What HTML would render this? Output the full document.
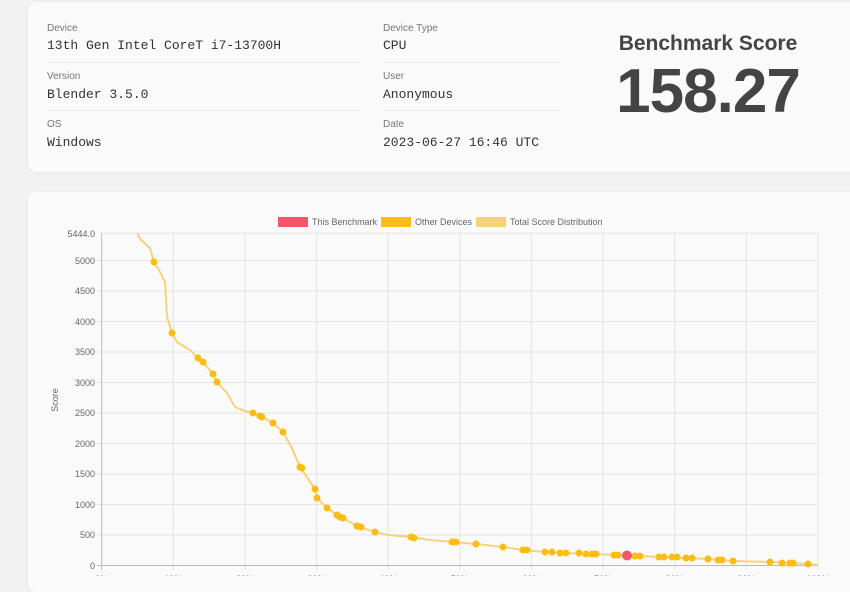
<!DOCTYPE html>
<html><head><meta charset="utf-8"><style>
body{margin:0;width:850px;height:576px;overflow:hidden;background:#f2f2f3;font-family:"Liberation Sans",sans-serif;position:relative}
.card{position:absolute;background:#fafafb;border-radius:8px;box-shadow:0 1px 4px rgba(0,0,0,.06)}
.lab{position:absolute;font-size:10px;color:#777}
.val{position:absolute;font-family:"Liberation Mono",monospace;font-size:13px;color:#333}
.hr{position:absolute;height:1px;background:#eaeaea}
</style></head><body>
<div class="card" style="left:28px;top:2px;width:840px;height:170px"></div>
<div class="lab" style="left:47px;top:23px">Device</div>
<div class="val" style="left:47px;top:38px">13th Gen Intel CoreT i7-13700H</div>
<div class="hr" style="left:47px;top:62px;width:314px"></div>
<div class="lab" style="left:47px;top:71px">Version</div>
<div class="val" style="left:47px;top:87px">Blender 3.5.0</div>
<div class="hr" style="left:47px;top:110px;width:314px"></div>
<div class="lab" style="left:47px;top:119px">OS</div>
<div class="val" style="left:47px;top:135px">Windows</div>
<div class="lab" style="left:383px;top:23px">Device Type</div>
<div class="val" style="left:383px;top:38px">CPU</div>
<div class="hr" style="left:383px;top:62px;width:178px"></div>
<div class="lab" style="left:383px;top:71px">User</div>
<div class="val" style="left:383px;top:87px">Anonymous</div>
<div class="hr" style="left:383px;top:110px;width:178px"></div>
<div class="lab" style="left:383px;top:119px">Date</div>
<div class="val" style="left:383px;top:135px">2023-06-27 16:46 UTC</div>
<div style="position:absolute;left:600px;width:216px;top:32px;text-align:center;font-size:21px;font-weight:bold;color:#444">Benchmark Score</div>
<div style="position:absolute;left:600px;width:216px;top:56px;text-align:center;font-size:62px;font-weight:bold;color:#444;letter-spacing:-1px">158.27</div>
<div class="card" style="left:28px;top:192px;width:840px;height:400px"></div>
<svg style="position:absolute;left:0;top:0" width="850" height="576" font-family="Liberation Sans, sans-serif">
<rect x="278" y="217" width="30" height="10" fill="#f4566a"/><text x="312" y="225" font-size="9" fill="#666">This Benchmark</text>
<rect x="381" y="217" width="30" height="10" fill="#fbbc14"/><text x="415" y="225" font-size="9" fill="#666">Other Devices</text>
<rect x="476" y="217" width="30" height="10" fill="#f5d27e"/><text x="510" y="225" font-size="9" fill="#666">Total Score Distribution</text>
<g stroke="#e4e4e6" stroke-width="1">
<line x1="101.7" y1="233.3" x2="818" y2="233.3"/>
<line x1="97" y1="260.5" x2="818" y2="260.5"/><line x1="97" y1="291" x2="818" y2="291"/><line x1="97" y1="321.5" x2="818" y2="321.5"/><line x1="97" y1="352" x2="818" y2="352"/><line x1="97" y1="382.5" x2="818" y2="382.5"/><line x1="97" y1="413" x2="818" y2="413"/><line x1="97" y1="443.5" x2="818" y2="443.5"/><line x1="97" y1="474" x2="818" y2="474"/><line x1="97" y1="504.5" x2="818" y2="504.5"/><line x1="97" y1="535" x2="818" y2="535"/>
<line x1="173.3" y1="233" x2="173.3" y2="570"/><line x1="245" y1="233" x2="245" y2="570"/><line x1="316.6" y1="233" x2="316.6" y2="570"/><line x1="388.2" y1="233" x2="388.2" y2="570"/><line x1="459.8" y1="233" x2="459.8" y2="570"/><line x1="531.4" y1="233" x2="531.4" y2="570"/><line x1="603" y1="233" x2="603" y2="570"/><line x1="674.7" y1="233" x2="674.7" y2="570"/><line x1="746.3" y1="233" x2="746.3" y2="570"/><line x1="818" y1="233" x2="818" y2="570"/>
</g>
<line x1="101.7" y1="233" x2="101.7" y2="570" stroke="#bbb"/>
<line x1="97" y1="565.5" x2="818" y2="565.5" stroke="#bbb"/>
<g font-size="9" fill="#666" text-anchor="end">
<text x="95" y="237">5444.0</text><text x="95" y="264">5000</text><text x="95" y="294">4500</text><text x="95" y="325">4000</text><text x="95" y="355">3500</text><text x="95" y="386">3000</text><text x="95" y="416">2500</text><text x="95" y="447">2000</text><text x="95" y="477">1500</text><text x="95" y="508">1000</text><text x="95" y="538">500</text><text x="95" y="569">0</text>
</g>
<g font-size="9" fill="#666" text-anchor="middle">
<text x="101.7" y="582">0%</text><text x="173.3" y="582">10%</text><text x="245" y="582">20%</text><text x="316.6" y="582">30%</text><text x="388.2" y="582">40%</text><text x="459.8" y="582">50%</text><text x="531.4" y="582">60%</text><text x="603" y="582">70%</text><text x="674.7" y="582">80%</text><text x="746.3" y="582">90%</text><text x="818" y="582">100%</text>
</g>
<text x="58" y="400" font-size="9" fill="#666" text-anchor="middle" transform="rotate(-90 58 400)">Score</text>
<polyline fill="none" stroke="#f5d27e" stroke-width="2" points="137.3,233.3 141,240 150,248 154,262 159,270 165,282 167,317 172,333 177,342 190,350 198,358 203,362 213,374 217,382 227,393 235,407 245,411 253,413 260,416 273,423 283,432 292,448 300,467 315,489 317,498 327,508 337,515 343,518 357,526 375,532 388,535 412,537 430,540 453,542 476,544 503,547 523,550 545,552 563,553 593,554 617,555 627,556 637,556 660,557 677,558 690,558 708,559 733,561 770,562 792,563 808,564 818,565"/>
<g fill="#fbbc14">
<circle cx="154" cy="262" r="3.5"/><circle cx="172" cy="333" r="3.5"/><circle cx="198" cy="358" r="3.5"/><circle cx="203" cy="362" r="3.5"/><circle cx="213" cy="374" r="3.5"/><circle cx="217" cy="382" r="3.5"/><circle cx="253" cy="413" r="3.5"/><circle cx="260" cy="416" r="3.5"/><circle cx="262" cy="417" r="3.5"/><circle cx="273" cy="423" r="3.5"/><circle cx="283" cy="432" r="3.5"/><circle cx="300" cy="467" r="3.5"/><circle cx="302" cy="468" r="3.5"/><circle cx="315" cy="489" r="3.5"/><circle cx="317" cy="498" r="3.5"/><circle cx="327" cy="508" r="3.5"/><circle cx="337" cy="515" r="3.5"/><circle cx="340" cy="517" r="3.5"/><circle cx="343" cy="518" r="3.5"/><circle cx="357" cy="526" r="3.5"/><circle cx="361" cy="527" r="3.5"/><circle cx="375" cy="532" r="3.5"/><circle cx="411" cy="537" r="3.5"/><circle cx="414" cy="538" r="3.5"/><circle cx="452" cy="542" r="3.5"/><circle cx="456" cy="542" r="3.5"/><circle cx="476" cy="544" r="3.5"/><circle cx="503" cy="547" r="3.5"/><circle cx="523" cy="550" r="3.5"/><circle cx="527" cy="550" r="3.5"/><circle cx="545" cy="552" r="3.5"/><circle cx="552" cy="552" r="3.5"/><circle cx="560" cy="553" r="3.5"/><circle cx="566" cy="553" r="3.5"/><circle cx="579" cy="553" r="3.5"/><circle cx="586" cy="554" r="3.5"/><circle cx="592" cy="554" r="3.5"/><circle cx="596" cy="554" r="3.5"/><circle cx="614" cy="555" r="3.5"/><circle cx="618" cy="555" r="3.5"/><circle cx="635" cy="556" r="3.5"/><circle cx="640" cy="556" r="3.5"/><circle cx="659" cy="557" r="3.5"/><circle cx="664" cy="557" r="3.5"/><circle cx="672" cy="557" r="3.5"/><circle cx="677" cy="557" r="3.5"/><circle cx="686" cy="558" r="3.5"/><circle cx="692" cy="558" r="3.5"/><circle cx="708" cy="559" r="3.5"/><circle cx="718" cy="560" r="3.5"/><circle cx="722" cy="560" r="3.5"/><circle cx="733" cy="561" r="3.5"/><circle cx="770" cy="562" r="3.5"/><circle cx="782" cy="563" r="3.5"/><circle cx="790" cy="563" r="3.5"/><circle cx="793" cy="563" r="3.5"/><circle cx="808" cy="564" r="3.5"/>
</g>
<circle cx="627" cy="555.5" r="5" fill="#f4566a"/>
</svg>
</body></html>
